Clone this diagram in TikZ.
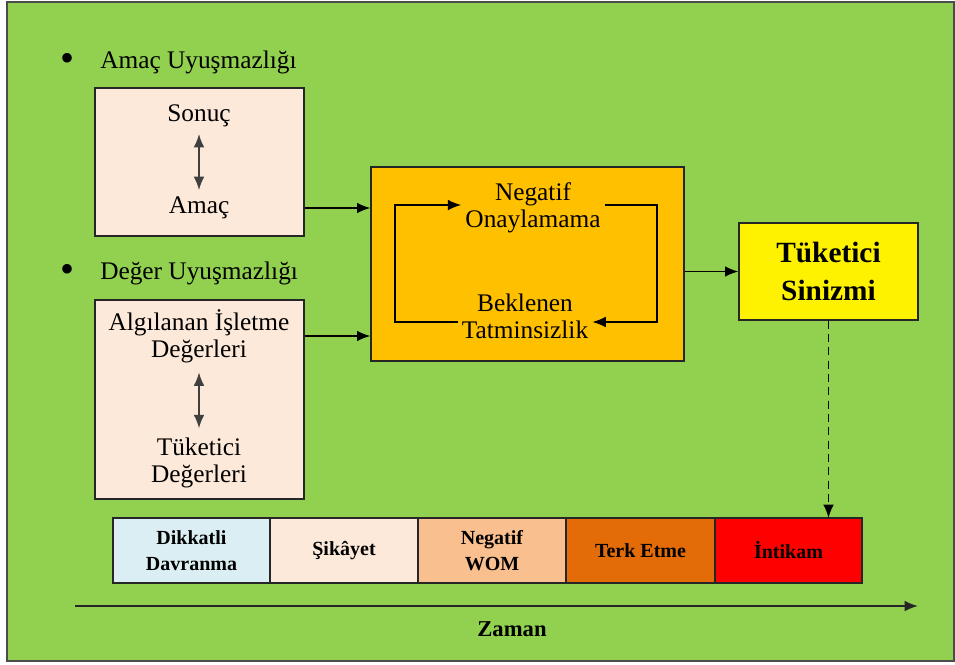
\documentclass[tikz,border=0pt]{standalone}
\usepackage{fontspec}
\setmainfont{Liberation Serif}
\usepackage{xcolor}
\usepackage{tikz}
\usetikzlibrary{arrows.meta, positioning}

\definecolor{zemin}{RGB}{146,208,80}
\definecolor{pembe}{RGB}{253,233,217}
\definecolor{turuncu}{RGB}{255,192,0}
\definecolor{mavi}{RGB}{218,238,243}
\definecolor{somon}{RGB}{250,191,143}
\definecolor{kiremit}{RGB}{227,108,9}

\begin{document}
\begin{tikzpicture}[x=0.75pt, y=-0.75pt, >={Latex[length=10pt,width=8pt]},
  kutu/.style={draw=black!85, line width=1pt, inner sep=0pt},
  yazi/.style={font=\fontsize{19}{20.5}\selectfont, align=center, inner sep=3pt},
  hucre/.style={draw=black!85, line width=1pt, minimum height=48.75pt, inner sep=0pt, outer sep=0pt, align=center, font=\fontsize{15}{19}\selectfont\bfseries}]
\useasboundingbox (0,0) rectangle (955,664);
\draw[fill=zemin, draw=black!70, line width=1pt] (7,2) rectangle (954,661);

\node[yazi, font=\fontsize{30}{30}\selectfont] (m1) at (68,62) {\textbullet};
\node[yazi, anchor=west] (amacuy) at (96,62) {Amaç Uyuşmazlığı};
\node[yazi, font=\fontsize{30}{30}\selectfont] (m2) at (68,273) {\textbullet};
\node[yazi, anchor=west] (degeruy) at (96,273) {Değer Uyuşmazlığı};

\node[kutu, fill=pembe, minimum width=156.75pt, minimum height=111pt] (kutu1) at (199.5,162) {};
\node[yazi] (sonuc) at (199,116) {Sonuç};
\node[yazi] (amac) at (199,208) {Amaç};
\draw[<->, line width=1.1pt, black!75, shorten <=2pt, shorten >=2pt] (sonuc.south) -- (amac.north);

\node[kutu, fill=pembe, minimum width=156.75pt, minimum height=149.25pt] (kutu2) at (199.5,399.5) {};
\node[yazi] (algi) at (199,336) {Algılanan İşletme\\Değerleri};
\node[yazi] (tukdeg) at (199,463) {Tüketici\\Değerleri};
\draw[<->, line width=1.1pt, black!75, shorten <=4pt, shorten >=4pt] (algi.south) -- (tukdeg.north);

\node[kutu, fill=turuncu, minimum width=234.75pt, minimum height=145.5pt] (orta) at (527.5,264) {};
\node[yazi] (neg) at (533,208) {Negatif\\Onaylamama};
\node[yazi] (bek) at (525,316) {Beklenen\\Tatminsizlik};
\coordinate (lt) at (395,205);
\coordinate (rt) at (657,205);
\coordinate (rb) at (657,322);
\coordinate (lb) at (395,322);
\draw[->, line width=1.1pt] (bek.west |- lb) -- (lb) -- (lt) -- (neg.west |- lt);
\draw[->, line width=1.1pt] (neg.east |- rt) -- (rt) -- (rb) -- (bek.east |- rb);

\draw[->, line width=1.1pt] (kutu1.east |- amac) -- (orta.west |- amac);
\draw[->, line width=1.1pt] (kutu2.east |- algi) -- (orta.west |- algi);

\node[kutu, fill=yellow, minimum width=134.25pt, minimum height=72.75pt, align=center,
  font=\fontsize{22}{28.5}\selectfont\bfseries] (sinizm) at (828.5,271.5) {Tüketici\\Sinizmi};
\draw[->, line width=1.1pt] (orta.east |- sinizm.west) -- (sinizm.west);

\node[hucre, fill=mavi, minimum width=117.75pt, anchor=west] (c1) at (113,550.5) {Dikkatli\\Davranma};
\node[hucre, fill=pembe, minimum width=111pt, right=0pt of c1] (c2) {Şikâyet};
\node[hucre, fill=somon, minimum width=111pt, right=0pt of c2] (c3) {Negatif\\WOM};
\node[hucre, fill=kiremit, minimum width=111.75pt, right=0pt of c3] (c4) {Terk Etme};
\node[hucre, fill=red, minimum width=110.25pt, right=0pt of c4] (c5) {İntikam};

\draw[->, dash pattern=on 6pt off 4pt, line width=1.3pt] (sinizm.south) -- (sinizm.south |- c5.north);

\coordinate (z0) at (75,606);
\coordinate (z1) at (918,606);
\draw[->, line width=1.3pt, black!85] (z0) -- (z1);
\node[font=\fontsize{17}{20}\selectfont\bfseries] (zaman) at (512,629) {Zaman};
\end{tikzpicture}
\end{document}
